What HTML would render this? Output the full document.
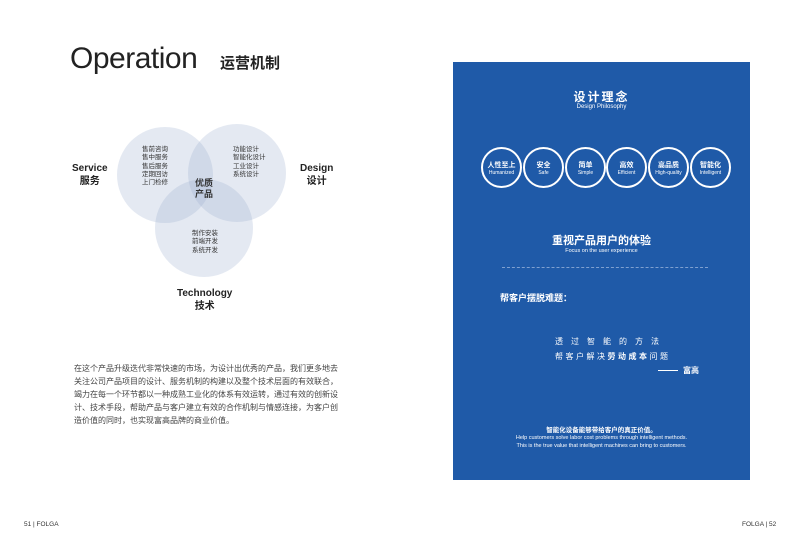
<!DOCTYPE html>
<html><head><meta charset="utf-8"><style>
body{margin:0;width:800px;height:543px;background:#fff;position:relative;overflow:hidden;font-family:"Liberation Sans","Noto Sans CJK SC",sans-serif;}
.a{position:absolute;white-space:nowrap}
.c{position:absolute;width:41px;height:41px;border:2px solid #fff;border-radius:50%;color:#fff;text-align:center;box-sizing:border-box}
.c b{display:block;font-size:7px;margin-top:12px;line-height:9px}
.c i{display:block;font-style:normal;font-size:5px;line-height:7px}
</style></head><body>
<div class="a" style="left:70px;top:42px;font-size:30px;color:#222;font-family:'Liberation Sans',sans-serif;letter-spacing:-0.5px">Operation</div>
<div class="a" style="left:220px;top:52px;font-size:15px;font-weight:bold;color:#222">运营机制</div>
<svg class="a" style="left:0;top:0" width="450" height="330">
<circle cx="165" cy="175" r="48" fill="#9fb0d2" fill-opacity="0.28"/>
<circle cx="237" cy="173" r="49" fill="#9fb0d2" fill-opacity="0.28"/>
<circle cx="204" cy="228" r="49" fill="#9fb0d2" fill-opacity="0.28"/>
</svg>
<div class="a" style="left:142px;top:146px;font-size:6.5px;line-height:8.3px;color:#333">售前咨询<br>售中服务<br>售后服务<br>定期回访<br>上门检修</div>
<div class="a" style="left:233px;top:146px;font-size:6.5px;line-height:8.3px;color:#333">功能设计<br>智能化设计<br>工业设计<br>系统设计</div>
<div class="a" style="left:192px;top:230px;font-size:6.5px;line-height:8.3px;color:#333">制作安装<br>前端开发<br>系统开发</div>
<div class="a" style="left:195px;top:178px;font-size:9px;line-height:11px;color:#333;font-weight:bold">优质<br>产品</div>
<div class="a" style="left:72px;top:162px;font-size:10px;line-height:13px;color:#222;font-weight:bold;text-align:center">Service<br>服务</div>
<div class="a" style="left:300px;top:162px;font-size:10px;line-height:13px;color:#222;font-weight:bold;text-align:center">Design<br>设计</div>
<div class="a" style="left:177px;top:287px;font-size:10px;line-height:13px;color:#222;font-weight:bold;text-align:center">Technology<br>技术</div>
<div class="a" style="left:74px;top:362px;font-size:8px;line-height:13px;color:#444;width:268px;white-space:normal">在这个产品升级迭代非常快速的市场，为设计出优秀的产品，我们更多地去关注公司产品项目的设计、服务机制的构建以及整个技术层面的有效联合，竭力在每一个环节都以一种成熟工业化的体系有效运转，通过有效的创新设计、技术手段，帮助产品与客户建立有效的合作机制与情感连接，为客户创造价值的同时，也实现富高品牌的商业价值。</div>
<div class="a" style="left:24px;top:521px;font-size:6.5px;color:#333">51 | FOLGA</div>
<div class="a" style="left:742px;top:521px;font-size:6.5px;color:#333">FOLGA | 52</div>
<div class="a" style="left:453px;top:62px;width:297px;height:418px;background:#1f5aa8"></div>
<div class="a" style="left:453px;top:88px;width:297px;text-align:center;color:#fff;font-size:12px;font-weight:bold;letter-spacing:2px">设计理念</div>
<div class="a" style="left:453px;top:104px;width:297px;text-align:center;color:#fff;font-size:6px">Design Philosophy</div>
<div class="c" style="left:481px;top:147px"><b>人性至上</b><i>Humanized</i></div>
<div class="c" style="left:523px;top:147px"><b>安全</b><i>Safe</i></div>
<div class="c" style="left:565px;top:147px"><b>简单</b><i>Simple</i></div>
<div class="c" style="left:606px;top:147px"><b>高效</b><i>Efficient</i></div>
<div class="c" style="left:648px;top:147px"><b>高品质</b><i>High-quality</i></div>
<div class="c" style="left:690px;top:147px"><b>智能化</b><i>Intelligent</i></div>
<div class="a" style="left:453px;top:232px;width:297px;text-align:center;color:#fff;font-size:11px;font-weight:bold">重视产品用户的体验</div>
<div class="a" style="left:453px;top:248px;width:297px;text-align:center;color:#fff;font-size:5.5px">Focus on the user experience</div>
<div class="a" style="left:502px;top:267px;width:206px;border-top:1px dashed #7fa0d0"></div>
<div class="a" style="left:500px;top:291px;color:#fff;font-size:9px;font-weight:bold">帮客户摆脱难题：</div>
<div class="a" style="left:555px;top:336px;color:#fff;font-size:8px;letter-spacing:8px">透过智能的方法</div>
<div class="a" style="left:555px;top:351px;color:#fff;font-size:8px;letter-spacing:2.5px">帮客户解决<b>劳动成本</b>问题</div>
<div class="a" style="left:658px;top:370px;width:20px;border-top:1px solid #fff"></div>
<div class="a" style="left:683px;top:365px;color:#fff;font-size:8px;font-weight:bold">富高</div>
<div class="a" style="left:453px;top:424px;width:297px;text-align:center;color:#fff;font-size:6.5px;font-weight:bold">智能化设备能够带给客户的真正价值。</div>
<div class="a" style="left:453px;top:435px;width:297px;text-align:center;color:#fff;font-size:5.5px;line-height:7.5px">Help customers solve labor cost problems through intelligent methods.<br>This is the true value that intelligent machines can bring to customers.</div>
</body></html>
